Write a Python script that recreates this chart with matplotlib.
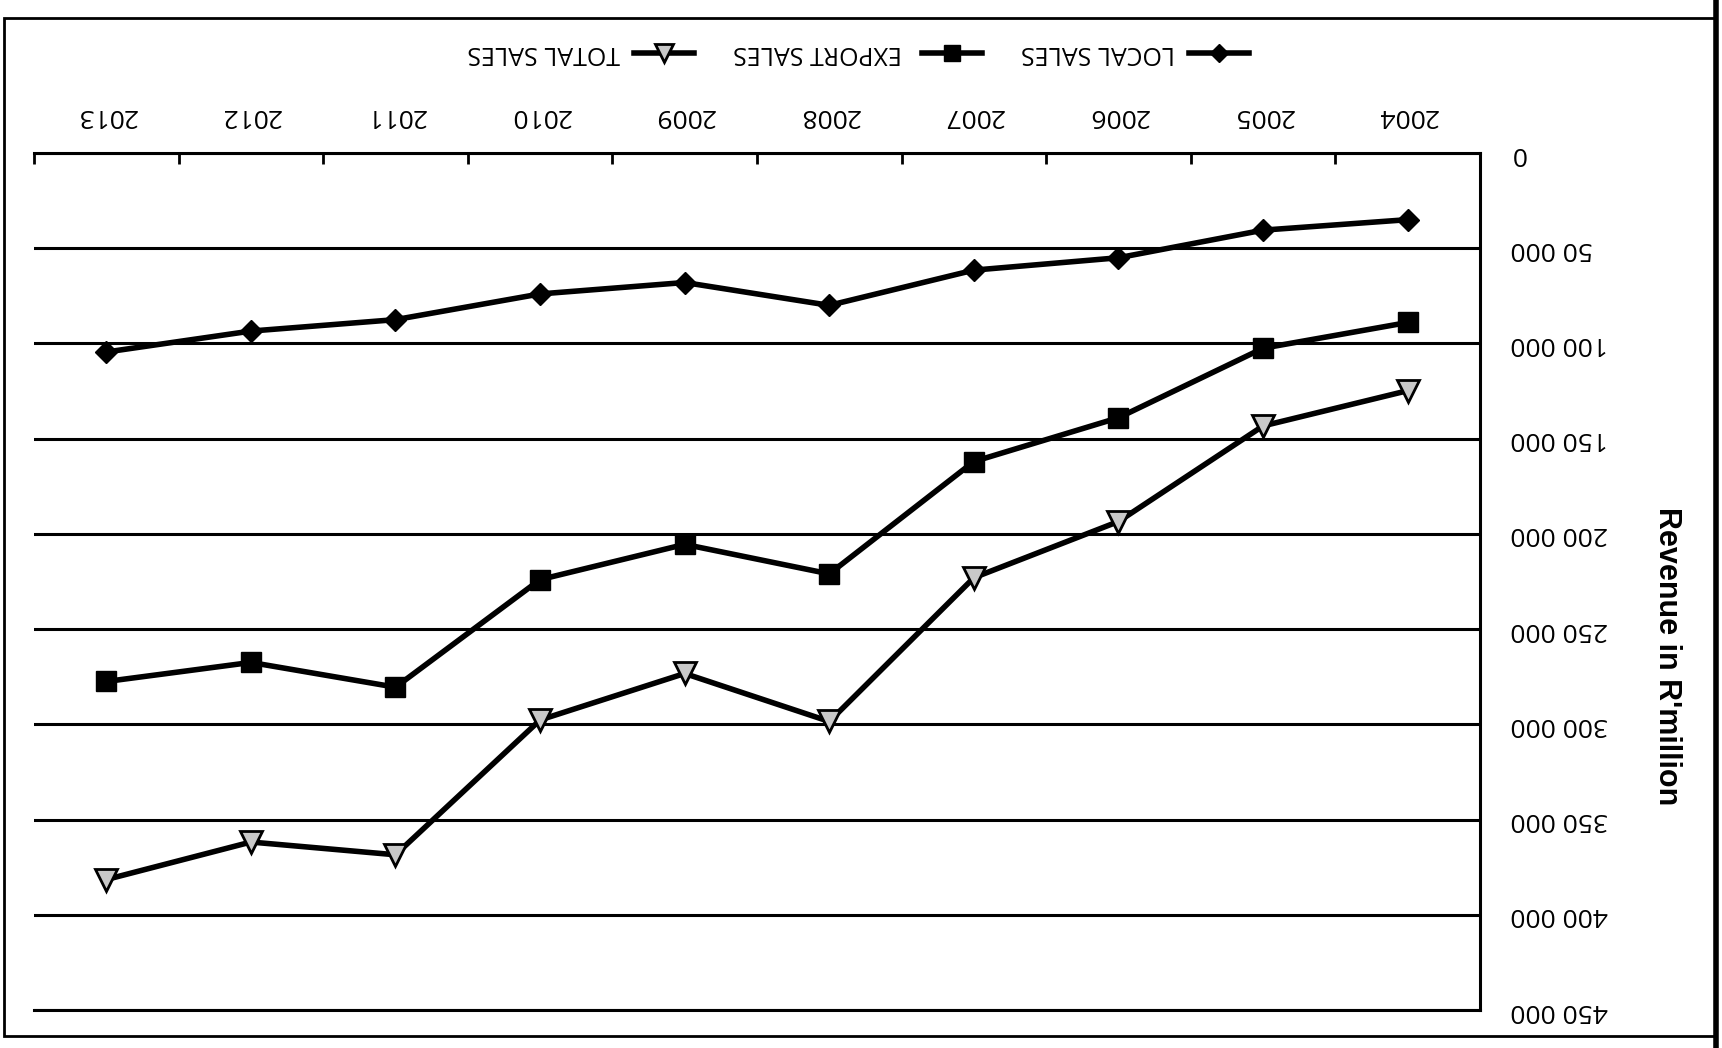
import matplotlib
matplotlib.use("Agg")
import matplotlib.pyplot as plt
from matplotlib.lines import Line2D
from matplotlib.patches import Rectangle
from matplotlib.ticker import FixedLocator, FuncFormatter, NullFormatter

# sales figures per year, R'million
years = ['2004', '2005', '2006', '2007', '2008', '2009', '2010', '2011', '2012', '2013']
local_sales = [35000, 40500, 55000, 61500, 80000, 68000, 74000, 87500, 93500, 104500]
export_sales = [89000, 102500, 139000, 162000, 221000, 205500, 224000, 280500, 267500, 277500]
total_sales = [124800, 143300, 193500, 223000, 298500, 273300, 297700, 368500, 361800, 381500]
series_names = ['LOCAL SALES', 'EXPORT SALES', 'TOTAL SALES']

plt.rcParams['font.family'] = ['Open Sans', 'DejaVu Sans']

W, H = 1722, 1048
fig = plt.figure(figsize=(W / 100, H / 100), dpi=100)

# plot area (the page is printed upside down, so everything is flipped)
left, right, top, bottom = 34, 1480, 153, 1010
ax = fig.add_axes([left / W, 1 - bottom / H, (right - left) / W, (bottom - top) / H])

x = list(range(len(years)))
styles = [
    dict(marker='D', ms=11, mfc='black', mec='black'),
    dict(marker='s', ms=14, mfc='black', mec='black'),
    dict(marker='v', ms=16, mfc='#c8c8c8', mec='black', mew=2),
]
for vals, st in zip([local_sales, export_sales, total_sales], styles):
    ax.plot(x, vals, color='black', lw=4, zorder=3, **st)

ax.set_xlim(len(years) - 0.5, -0.5)
ax.set_ylim(450000, 0)

# value axis on the right, labels upside down
ax.yaxis.tick_right()
ax.set_yticks(range(0, 450001, 50000))
ax.yaxis.set_major_formatter(FuncFormatter(lambda v, p: f"{int(v):,}".replace(',', ' ')))
ax.tick_params(axis='y', length=0, pad=22, labelsize=19, labelrotation=180)
for lbl in ax.get_yticklabels():
    lbl.set_ha('left')
    lbl.set_va('center')
    lbl.set_fontweight('medium')
ax.grid(axis='y', color='black', lw=2.2)

# category axis along the top, ticks between categories
ax.xaxis.tick_top()
ax.xaxis.set_major_locator(FixedLocator([i - 0.5 for i in range(len(years) + 1)]))
ax.xaxis.set_major_formatter(NullFormatter())
ax.xaxis.set_minor_locator(FixedLocator(x))
ax.set_xticklabels(years, minor=True, fontweight='medium')
ax.tick_params(axis='x', which='major', direction='in', length=8, width=2, color='black')
ax.tick_params(axis='x', which='minor', length=0, pad=18, labelsize=19, labelrotation=180)

ax.spines['left'].set_visible(False)
for side in ['top', 'right', 'bottom']:
    ax.spines[side].set_linewidth(2.2)

fig.text(1667 / W, 1 - 656 / H, "Revenue in R'million", rotation=270, ha='center', va='center',
         fontsize=22, fontweight='bold', family=['Liberation Sans'])

# legend, drawn by hand so its text can sit upside down
legend_items = [
    (series_names[0], 1021, 1219, styles[0]),
    (series_names[1], 733, 952, styles[1]),
    (series_names[2], 467, 664, styles[2]),
]
ly = 1 - 53 / H
for name, tx, mx, st in legend_items:
    fig.add_artist(Line2D([(mx - 30) / W, (mx + 30) / W], [ly, ly], transform=fig.transFigure,
                          color='black', lw=4))
    st2 = dict(st)
    st2['ms'] = st['ms'] * 0.8
    fig.add_artist(Line2D([mx / W], [ly], transform=fig.transFigure, color='black', **st2))
    fig.text(tx / W, ly, name, rotation=180, ha='left', va='center', fontsize=18,
             fontweight='medium')

# page frame
fig.add_artist(Rectangle((4 / W, 1 - 1036 / H), 1712 / W, 1018 / H, transform=fig.transFigure,
                         fill=False, ec='black', lw=2))
fig.add_artist(Line2D([1716 / W, 1716 / W], [0, 1], transform=fig.transFigure, color='black', lw=4))

fig.savefig('out.png', dpi=100)
